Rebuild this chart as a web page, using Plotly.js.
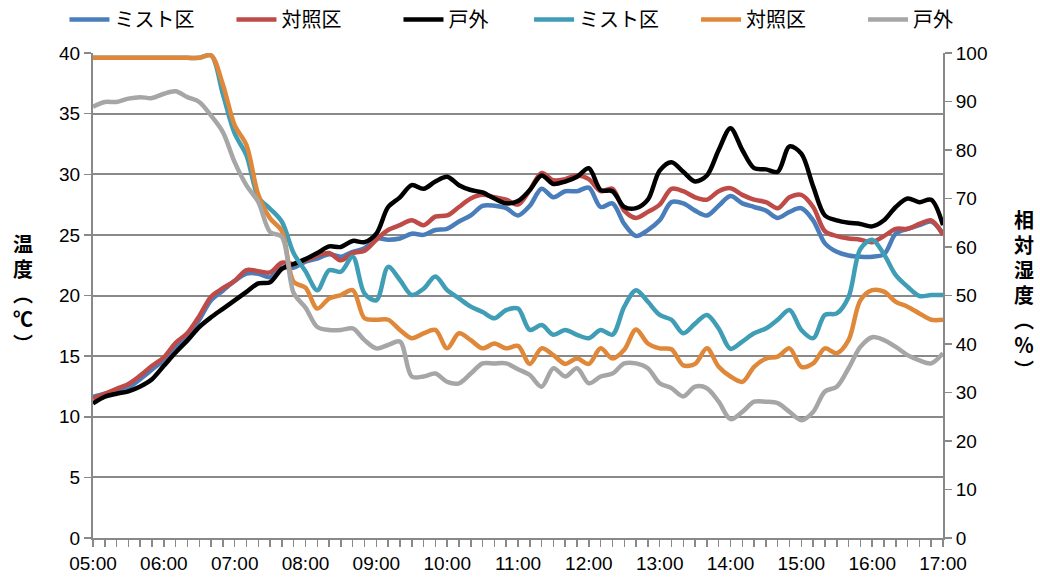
<!DOCTYPE html>
<html>
<head>
<meta charset="utf-8">
<script src="https://cdn.plot.ly/plotly-3.0.1.min.js"></script>
<style>html,body{margin:0;padding:0;background:#fff;}#chart{width:1040px;height:580px;}</style>
</head>
<body>
<div id="chart"></div>
<script>
// time of day, every 10 minutes from 05:00 to 17:00
const startTime = '05:00';
const stepMinutes = 10;
const pointCount = 73;
const hourLabels = ['05:00','06:00','07:00','08:00','09:00','10:00','11:00','12:00','13:00','14:00','15:00','16:00','17:00'];
const seriesNames = ['ミスト区','対照区','戸外','ミスト区','対照区','戸外'];
const leftTitle = '温度（℃）';
const rightTitle = '相対湿度（％）';

// temperature (°C), left axis
const tempMist = [11.65,11.9,12.2,12.4,13.1,13.9,14.7,15.8,16.6,18.0,19.6,20.4,21.2,21.8,21.8,21.5,22.3,22.3,22.8,
  23.05,23.4,23.2,23.6,23.9,24.7,24.6,24.7,25.1,25.0,25.4,25.5,26.1,26.6,27.4,27.4,27.2,26.6,
  27.4,28.8,28.1,28.6,28.6,28.9,27.3,27.6,25.9,24.9,25.4,26.2,27.7,27.6,27.0,26.6,27.4,28.2,
  27.6,27.3,27.0,26.4,26.9,27.2,26.2,24.3,23.6,23.3,23.2,23.2,23.4,25.1,25.5,25.8,26.1,25.1];
const tempControl = [11.5,11.9,12.3,12.7,13.4,14.2,14.9,16.1,16.9,18.3,19.9,20.6,21.2,22.1,22.0,21.9,22.7,22.6,22.9,
  23.3,23.5,22.9,23.5,23.7,24.6,25.4,25.8,26.2,25.8,26.5,26.6,27.3,28.0,28.3,28.1,27.9,27.5,
  28.7,30.1,29.5,29.6,29.9,29.6,28.6,28.8,27.0,26.4,26.9,27.5,28.8,28.6,28.1,27.9,28.6,28.85,
  28.3,27.9,27.7,27.2,28.1,28.3,27.3,25.3,24.9,24.7,24.6,24.4,24.9,25.5,25.5,25.9,26.2,25.0];
const tempOutside = [11.1,11.65,11.9,12.1,12.5,13.1,14.2,15.3,16.3,17.4,18.2,18.9,19.6,20.3,21.0,21.1,22.2,22.6,23.0,
  23.5,24.05,24.0,24.5,24.4,25.1,27.3,28.1,29.1,28.8,29.4,29.8,29.1,28.7,28.5,28.0,27.6,27.8,
  28.7,29.9,29.2,29.4,29.8,30.5,28.7,28.6,27.3,27.2,27.9,30.3,31.0,30.2,29.4,29.9,32.0,33.8,
  32.0,30.5,30.4,30.2,32.3,31.7,29.0,26.6,26.2,26.0,25.9,25.7,26.2,27.3,28.0,27.7,27.9,25.8];

// relative humidity (%), right axis
const rhMist = [99.0,99.0,99.0,99.0,99.0,99.0,99.0,99.0,99.0,99.0,99.5,91.5,83.4,78.9,70.3,67.9,65.2,58.7,55.0,
  51.1,55.2,54.9,58.0,50.4,49.0,55.9,53.2,50.1,51.4,53.9,51.1,49.4,47.7,46.6,45.3,47.0,47.3,
  42.9,43.9,41.9,42.9,41.9,41.2,42.9,41.9,47.7,51.1,48.7,46.0,45.0,42.2,44.2,46.0,43.2,39.0,
  40.5,42.2,43.2,45.0,47.0,42.9,41.2,46.0,46.3,49.7,59.6,61.5,58.5,54.2,51.8,49.9,50.1,50.1];
const rhControl = [99.0,99.0,99.0,99.0,99.0,99.0,99.0,99.0,99.0,99.0,99.5,93.5,85.1,81.0,70.8,65.9,63.3,52.8,51.6,
  47.3,49.4,50.1,51.1,45.3,45.0,45.0,42.9,41.2,42.2,42.9,39.1,42.2,40.8,39.1,40.1,39.1,39.6,
  35.9,39.1,37.7,35.9,37.0,35.9,39.1,37.0,38.8,43.0,40.1,39.1,38.9,35.6,35.9,39.1,35.3,33.3,
  32.2,35.3,37.0,37.4,39.1,35.3,36.0,39.1,38.1,40.8,49.0,51.1,50.8,48.7,47.7,46.3,45.0,45.0];
const rhOutside = [88.9,89.9,89.9,90.6,90.9,90.7,91.6,92.1,90.9,89.9,87.1,83.7,77.5,72.7,69.3,63.1,62.1,50.5,47.5,
  43.5,42.9,42.9,43.2,40.8,39.1,39.8,40.5,33.3,33.3,33.9,32.2,31.9,33.9,36.0,36.0,36.0,34.8,
  33.6,31.2,35.0,33.3,35.0,31.9,33.3,33.9,36.0,36.0,35.0,31.9,30.9,29.2,31.2,30.9,28.1,24.5,
  26.0,28.1,28.1,27.8,26.0,24.3,26.0,30.2,31.2,35.0,39.4,41.4,40.8,39.4,37.7,36.6,36.0,38.1];

const colors = ['#4a7ebb','#be4b48','#000000','#3f9db5','#e0883a','#a6a6a6'];

const day = '2000-01-01 ';
function toDate(hm){ return day + hm; }
const [sh, sm] = startTime.split(':').map(Number);
const times = Array.from({length: pointCount}, (_, i) => {
  const m = sh*60 + sm + i*stepMinutes;
  return String(Math.floor(m/60)).padStart(2,'0') + ':' + String(m%60).padStart(2,'0');
});
const xs = times.map(toDate);

const seriesData = [tempMist, tempControl, tempOutside, rhMist, rhControl, rhOutside];
const traces = seriesData.map((ys, k) => ({
  type: 'scatter', mode: 'lines', name: seriesNames[k],
  x: xs, y: ys, yaxis: k < 3 ? 'y' : 'y2', legend: k < 3 ? 'legend' : 'legend2',
  line: {color: colors[k], width: 4.5, shape: 'spline', smoothing: 0.9},
  hoverinfo: 'skip'
}));

const axisColor = '#898989';
const tickFont = {family: 'Liberation Sans, Arial, sans-serif', size: 19, color: '#000'};
const cjk = 'Noto Sans CJK JP, sans-serif';
const legendBase = {orientation: 'h', xref: 'container', xanchor: 'left', yref: 'container', y: 1, yanchor: 'top',
  font: {family: cjk, size: 20, color: '#000'}, entrywidth: 112, itemwidth: 40, traceorder: 'normal'};

const layout = {
  width: 1040, height: 580,
  margin: {l: 93, r: 97, t: 53, b: 42, autoexpand: false},
  paper_bgcolor: '#fff', plot_bgcolor: '#fff',
  showlegend: true,
  legend: Object.assign({}, legendBase, {x: 0.062}),
  legend2: Object.assign({}, legendBase, {x: 0.5087}),
  xaxis: {
    type: 'date', range: [xs[0], xs[xs.length-1]],
    tickmode: 'array', tickvals: hourLabels.map(toDate), ticktext: hourLabels,
    ticks: 'outside', ticklen: 7, tickwidth: 1.5, tickcolor: axisColor,
    minor: {tickmode: 'array', tickvals: xs, ticks: 'outside', ticklen: 7, tickwidth: 1.5, tickcolor: axisColor, showgrid: false},
    showline: true, linecolor: axisColor, linewidth: 2, showgrid: false, zeroline: false,
    tickfont: tickFont, fixedrange: true
  },
  yaxis: {
    range: [0, 40], tickmode: 'linear', tick0: 0, dtick: 5,
    ticks: 'outside', ticklen: 7, tickwidth: 1.5, tickcolor: axisColor,
    showline: true, linecolor: axisColor, linewidth: 2,
    showgrid: true, gridcolor: axisColor, gridwidth: 2, zeroline: false,
    tickfont: tickFont, fixedrange: true
  },
  yaxis2: {
    overlaying: 'y', side: 'right', range: [0, 100], tickmode: 'linear', tick0: 0, dtick: 10,
    ticks: 'outside', ticklen: 7, tickwidth: 1.5, tickcolor: axisColor,
    showline: true, linecolor: axisColor, linewidth: 2,
    showgrid: false, zeroline: false, tickfont: tickFont, fixedrange: true
  },
  annotations: [
    {text: leftTitle, xref: 'paper', yref: 'paper', x: -0.0824, y: 0.497,
     xanchor: 'center', yanchor: 'middle', showarrow: false, font: {family: cjk, size: 20, color: '#000', weight: 'bold'}},
    {text: rightTitle, xref: 'paper', yref: 'paper', x: 1.0953, y: 0.495,
     xanchor: 'center', yanchor: 'middle', showarrow: false, font: {family: cjk, size: 20, color: '#000', weight: 'bold'}}
  ]
};

// vertical (top-to-bottom) writing for the two axis titles, centred where Plotly placed them
function verticalTitles(gd) {
  gd.querySelectorAll('.annotation-text').forEach(t => {
    const before = t.getBoundingClientRect();
    const cx = before.left + before.width / 2, cy = before.top + before.height / 2;
    t.style.writingMode = 'vertical-rl';
    t.style.textOrientation = 'mixed';
    t.style.letterSpacing = '5px';
    t.setAttribute('text-anchor', 'middle');
    const after = t.getBoundingClientRect();
    const dx = cx - (after.left + after.width / 2), dy = cy - (after.top + after.height / 2);
    const x0 = parseFloat(t.getAttribute('x') || '0'), y0 = parseFloat(t.getAttribute('y') || '0');
    t.setAttribute('x', x0 + dx);
    t.setAttribute('y', y0 + dy);
  });
}

Plotly.newPlot('chart', traces, layout, {displayModeBar: false, staticPlot: true})
  .then(gd => verticalTitles(gd));
</script>
</body>
</html>
